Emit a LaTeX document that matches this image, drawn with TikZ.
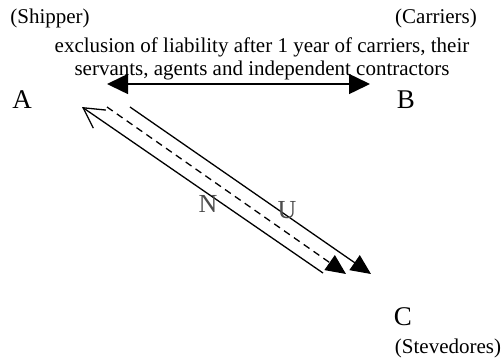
\documentclass[tikz,border=0pt]{standalone}
\usepackage{fontspec}
\setmainfont{Liberation Serif}
\usetikzlibrary{arrows.meta}

\begin{document}
\begin{tikzpicture}[x=1pt, y=-1pt,
  party/.style={font=\fontsize{27}{27}\selectfont, inner sep=0pt, anchor=base},
  role/.style={font=\fontsize{21}{21}\selectfont, inner sep=0pt, anchor=base},
  note/.style={font=\fontsize{21}{23}\selectfont, inner sep=0pt, align=center, anchor=base},
  claim/.style={font=\fontsize{26}{26}\selectfont, inner sep=0pt, anchor=base, text=black!70},
  arr/.style={-{Triangle[length=20pt, width=18pt]}, line width=1.3pt},
  both/.style={{Triangle[length=21pt, width=20pt]}-{Triangle[length=21pt, width=20pt]}, line width=1.5pt}
]
  \useasboundingbox (0,0) rectangle (504,360);

  % parties
  \node[party] (A) at (22,108) {A};
  \node[party] (B) at (406,108) {B};
  \node[party] (C) at (403,325) {C};
  \node[role] (shipper) at (50,23) {(Shipper)};
  \node[role] (carriers) at (436,23) {(Carriers)};
  \node[role] (stevedores) at (448,353) {(Stevedores)};
  \node[note] (excl) at (262,75) {exclusion of liability after 1 year of carriers, their\\servants, agents and independent contractors};

  % ends of the arrows
  \coordinate (ab1) at (107,84);
  \coordinate (ab2) at (370,84);
  \coordinate (ca1) at (323,273);
  \coordinate (ca2) at (82,107);
  \coordinate (ac1) at (107,107);
  \coordinate (ac2) at (346,274);
  \coordinate (au1) at (130,107);
  \coordinate (au2) at (371,274);

  \draw[both] (ab1) -- (ab2);
  \draw[-{Straight Barb[length=20pt, width=22pt]}, line width=1.3pt] (ca1) -- (ca2);
  \draw[arr, dash pattern=on 7pt off 5pt] (ac1) -- (ac2);
  \draw[arr] (au1) -- (au2);

  \node[claim] (N) at (208,212) {N};
  \node[claim] (U) at (287,218) {U};
\end{tikzpicture}
\end{document}
